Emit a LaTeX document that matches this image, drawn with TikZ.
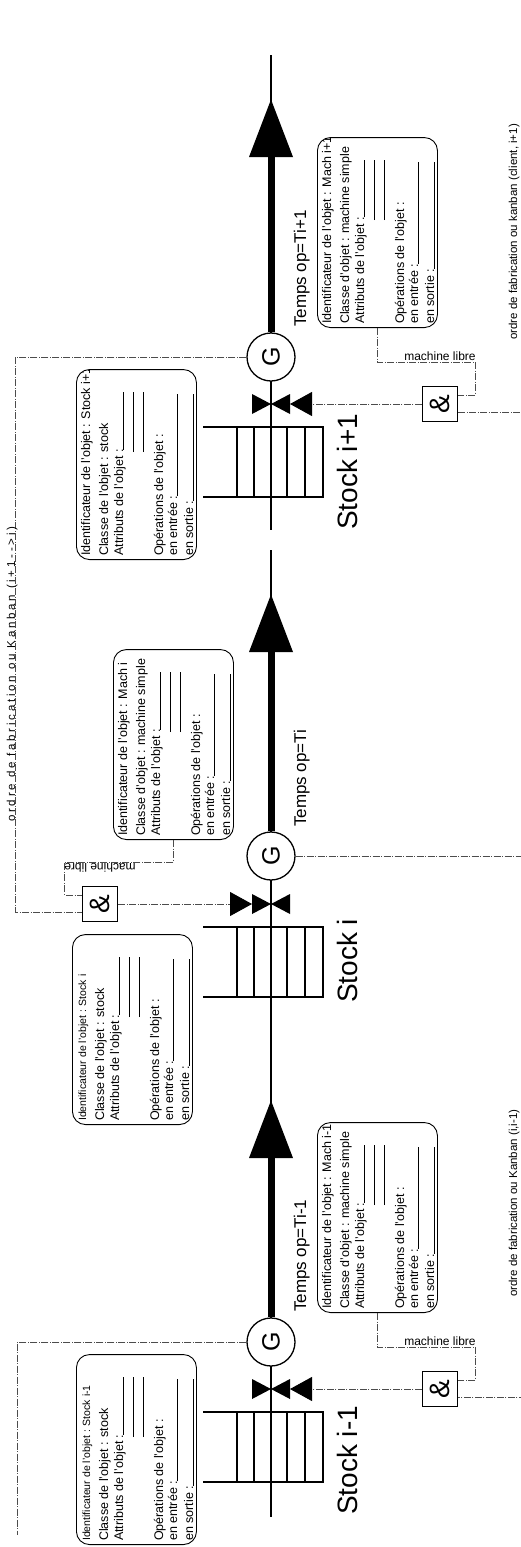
\documentclass[tikz,border=0pt]{standalone}
\usepackage{fontspec}
\setmainfont{Liberation Sans}
\usetikzlibrary{arrows.meta,calc}

\tikzset{
  axe/.style={line width=1.1pt},
  flux/.style={line width=7pt, -{Triangle[length=58pt,width=42pt]}},
  ordre/.style={line width=0.9pt, black!70, dash pattern=on 7pt off 1.5pt on 1pt off 1.5pt},
  vers vanne/.style={ordre, -{Triangle[length=22pt,width=24pt,black]}},
  pile/.style={line width=2pt},
  fiche/.style={draw, line width=0.9pt, rounded corners=13pt, minimum width=190pt, minimum height=120pt, anchor=north west, inner sep=0pt},
  ligne/.style={anchor=base west, inner sep=0pt, font=\fontsize{12.5}{14}\selectfont},
  gen/.style={draw, circle, fill=white, line width=1.3pt, minimum size=48pt, inner sep=0pt, font=\fontsize{25}{25}\selectfont},
  porte/.style={draw, fill=white, line width=1.5pt, minimum size=35pt, inner sep=0pt, font=\fontsize{28}{28}\selectfont},
  temps/.style={rotate=90, anchor=base west, inner sep=0pt, font=\fontsize{17}{17}\selectfont},
  stock/.style={rotate=90, anchor=base west, inner sep=0pt, font=\fontsize{28}{28}\selectfont},
  libre/.style={anchor=south, inner sep=1pt, font=\fontsize{12}{12}\selectfont},
  consigne/.style={rotate=90, anchor=base west, inner sep=0pt, font=\fontsize{11.5}{12}\selectfont},
}

% fiche objet : #1 nom, #2 coin, #3 police identificateur, #4 objet, #5 classe
\newcommand{\fiche}[5]{%
  \begin{scope}[shift={#2}, rotate=90, transform shape]
    \node[fiche] (#1) at (0,0) {};
    \begin{scope}
      \clip[rounded corners=13pt] (0,0) rectangle (190,120);
      \node[ligne, font=#3] at (4,14) {Identificateur de l'objet : #4};
    \end{scope}
    \node[ligne] at (4,32) {#5};
    \node[ligne] at (4,47) {\makebox[164pt][l]{Attributs de l'objet :\hrulefill}};
    \draw[line width=0.6pt] (108,57) -- (168,57) (108,67) -- (168,67);
    \node[ligne] at (4,87) {Opérations de l'objet :};
    \node[ligne] at (4,101) {\makebox[162pt][l]{en entrée :\hrulefill}};
    \node[ligne] at (4,117) {\makebox[162pt][l]{en sortie :\hrulefill}};
  \end{scope}}

\begin{document}
\begin{tikzpicture}[x=1pt,y=-1pt]
  \useasboundingbox (0,0) rectangle (520,1547);

  % axe
  \coordinate (haut) at (271,55);
  \coordinate (coupure1) at (271,530);
  \coordinate (coupure2) at (271,550);
  \coordinate (bas) at (271,1517);
  \draw[axe] (haut) -- (coupure1);
  \draw[axe] (coupure2) -- (bas);

  % ----- etage i-1 -----
  % stock
  \draw[pile] (203,1412) -- (323,1412) -- (323,1482) -- (203,1482);
  \foreach \x in {237,254,287,305} \draw[pile] (\x,1412) -- (\x,1482);
  % vanne
  \fill (252,1379) -- (271,1389) -- (252,1399) -- cycle;
  \fill (290,1379) -- (271,1389) -- (290,1399) -- cycle;
  \coordinate (vm) at (290,1389);
  % machine
  \node[gen] (gm) at (271,1342) {\rotatebox{90}{G}};
  \coordinate (fm) at (271,1100);
  \draw[flux] (gm.north) -- (fm);
  \node[temps] (tm) at (306,1312) {Temps op=Ti-1};
  \node[stock] (sm) at (357,1515) {Stock i-1};
  % synchronisation
  \node[porte] (em) at (440,1389) {\rotatebox{90}{\&}};
  \draw[vers vanne] (em.west) -- (vm);
  \fiche{mm}{(317,1313)}{\fontsize{12.5}{14}\selectfont}{Mach i-1}{Classe d'objet : machine simple}
  \fiche{fsm}{(76,1545)}{\fontsize{10.5}{12}\selectfont}{Stock i-1}{Classe de l'objet : stock}
  \draw[ordre] (mm.west) -- ++(0,34) coordinate (lm) -| ($(em.east)+(17,-9)$) -- ($(em.east)+(0,-9)$);
  \node[libre] at (lm -| em) {machine libre};
  \coordinate (entree) at (17,1535);
  \draw[ordre] (gm.west) -| (entree);

  % ----- etage i -----
  \draw[pile] (203,927) -- (323,927) -- (323,997) -- (203,997);
  \foreach \x in {237,254,287,305} \draw[pile] (\x,927) -- (\x,997);
  \fill (252,894) -- (271,904) -- (252,914) -- cycle;
  \fill (290,894) -- (271,904) -- (290,914) -- cycle;
  \coordinate (vi) at (252,904);
  \node[gen] (gi) at (271,856) {\rotatebox{90}{G}};
  \coordinate (fi) at (271,594);
  \draw[flux] (gi.north) -- (fi);
  \node[temps] (ti) at (306,827) {Temps op=Ti};
  \node[stock] (si) at (357,1003) {Stock i};
  \node[porte] (ei) at (100,904) {\rotatebox{90}{\&}};
  \draw[vers vanne] (ei.east) -- (vi);
  \fiche{mi}{(113,840)}{\fontsize{12.5}{14}\selectfont}{Mach i}{Classe d'objet : machine simple}
  \fiche{fsi}{(72,1125)}{\fontsize{10.5}{12}\selectfont}{Stock i}{Classe de l'objet : stock}
  \draw[ordre] (mi.west) -- ++(0,22) coordinate (li) -| ($(ei.west)+(-17,-9)$) -- ($(ei.west)+(0,-9)$);
  \node[libre, rotate=180] at (li -| ei) {machine libre};
  % ordre vers i-1
  \draw[ordre] (gi.east) -| ($(em.east)+(67,8)$) -- ($(em.east)+(0,8)$);
  \node[consigne] at (517,1297) {ordre de fabrication ou Kanban (i,i-1)};

  % ----- etage i+1 -----
  \draw[pile] (203,427) -- (323,427) -- (323,497) -- (203,497);
  \foreach \x in {237,254,287,305} \draw[pile] (\x,427) -- (\x,497);
  \fill (252,394) -- (271,404) -- (252,414) -- cycle;
  \fill (290,394) -- (271,404) -- (290,414) -- cycle;
  \coordinate (vp) at (290,404);
  \node[gen] (gp) at (271,357) {\rotatebox{90}{G}};
  \coordinate (fp) at (271,99);
  \draw[flux] (gp.north) -- (fp);
  \node[temps] (tp) at (306,327) {Temps op=Ti+1};
  \node[stock] (sp) at (357,530) {Stock i+1};
  \node[porte] (ep) at (440,404) {\rotatebox{90}{\&}};
  \draw[vers vanne] (ep.west) -- (vp);
  \fiche{mp}{(317,328)}{\fontsize{12.5}{14}\selectfont}{Mach i+1}{Classe d'objet : machine simple}
  \fiche{fsp}{(76,560)}{\fontsize{12.5}{14}\selectfont}{Stock i+1}{Classe de l'objet : stock}
  \draw[ordre] (mp.west) -- ++(0,34) coordinate (lp) -| ($(ep.east)+(17,-9)$) -- ($(ep.east)+(0,-9)$);
  \node[libre] at (lp -| ep) {machine libre};
  % ordre client
  \coordinate (sortie) at (525,0);
  \draw[ordre] ($(ep.east)+(0,8)$) -| (sortie);
  \node[consigne] at (517,340) {ordre de fabrication ou kanban (client, i+1)};
  % ordre vers i
  \draw[ordre] (gp.west) -| ($(ei.west)+(-66,8)$) -- ($(ei.west)+(0,8)$);
  \node[consigne, font=\fontsize{11.5}{12}\selectfont\addfontfeature{LetterSpace=24}] at (15,822) {ordre de fabrication ou Kanban (i+1{-}{-}>i)};
\end{tikzpicture}
\end{document}
